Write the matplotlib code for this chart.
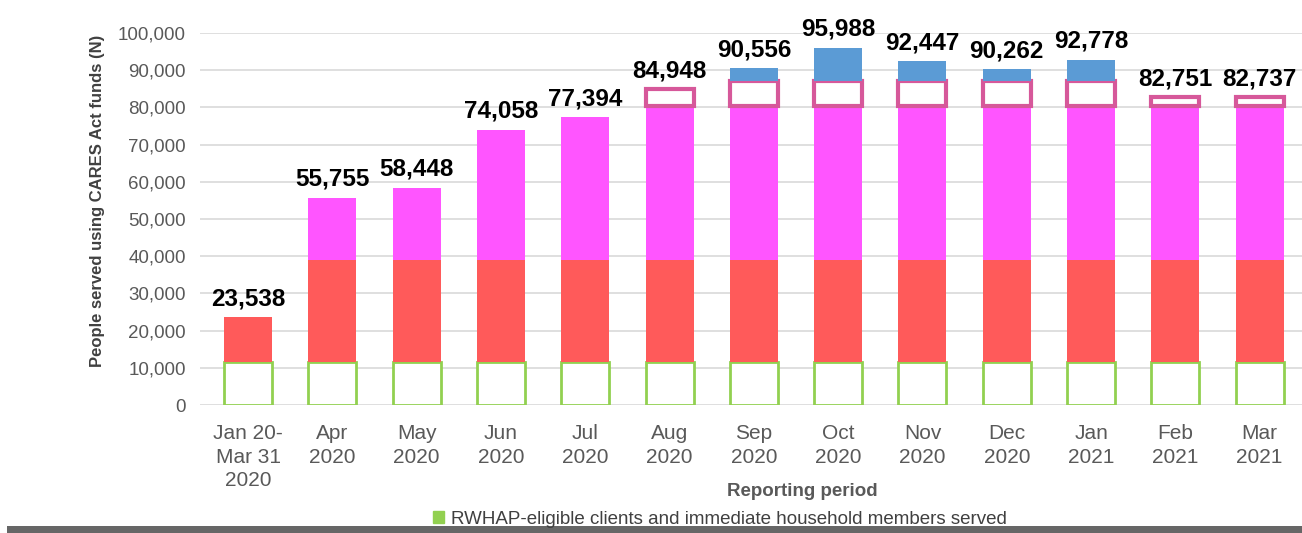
import numpy as np
import matplotlib
matplotlib.use("Agg")
import matplotlib.pyplot as plt
from matplotlib.patches import Patch, Rectangle

plt.rcParams['font.family'] = ['Liberation Sans', 'DejaVu Sans']

# reporting periods and people served (totals shown above bars)
periods = ['Jan 20-\nMar 31\n2020', 'Apr\n2020', 'May\n2020', 'Jun\n2020', 'Jul\n2020',
           'Aug\n2020', 'Sep\n2020', 'Oct\n2020', 'Nov\n2020', 'Dec\n2020',
           'Jan\n2021', 'Feb\n2021', 'Mar\n2021']
served = [23538, 55755, 58448, 74058, 77394, 84948, 90556, 95988,
          92447, 90262, 92778, 82751, 82737]
legendLabel = 'RWHAP-eligible clients and immediate household members served'

# colour bands as they appear in the picture (lower edge of each band)
bandEdges = [0, 11500, 39000, 80500, 87000, 1e9]
bandFace = ['white', '#ff5a5a', '#ff55ff', 'white', '#5b9bd5']
bandEdge = ['#92d050', '#ff5a5a', '#ff55ff', '#d6589a', '#5b9bd5']
bandLw = [2.0, 0, 0, 3.0, 0]

step = 84.3  # pixels per category
fig = plt.figure(figsize=(13.02, 5.33), dpi=100)
ax = fig.add_axes([200 / 1302, 128 / 533, 1102 / 1302, 372 / 533])

x = np.arange(len(periods))
served = np.array(served)
for b in range(len(bandFace)):
  lo = bandEdges[b]
  hi = bandEdges[b + 1]
  seg = np.clip(served, lo, hi) - lo
  keep = seg > 0
  ax.bar(x[keep], seg[keep], bottom=lo, width=0.57, color=bandFace[b], edgecolor=bandEdge[b],
         linewidth=bandLw[b], zorder=3)

for i, v in enumerate(served):
  ax.annotate(f'{v:,}', (i, v), xytext=(0, 5), textcoords='offset points',
              ha='center', va='bottom', fontsize=17.5, fontweight='bold', color='black')

ax.set_xlim(-0.57, -0.57 + 1102 / step)
ax.set_ylim(0, 100000)
ax.set_yticks(np.arange(0, 100001, 10000))
ax.yaxis.set_major_formatter(matplotlib.ticker.FuncFormatter(lambda v, p: f'{int(v):,}'))
ax.set_xticks(x)
ax.set_xticklabels(periods, linespacing=1.3)
ax.tick_params(axis='y', labelsize=13.5, labelcolor='#595959', length=0, pad=10)
ax.tick_params(axis='x', labelsize=15, labelcolor='#595959', length=0, pad=14)
ax.grid(axis='y', color='#d9d9d9', linewidth=1.2, zorder=0)
for s in ax.spines.values():
  s.set_visible(False)

ax.set_ylabel('People served using CARES Act funds (N)', fontsize=12, fontweight='bold',
              color='#404040')
ax.yaxis.set_label_coords(-95 / 1102, 0.55)
fig.text(802 / 1302, 1 - 492 / 533, 'Reporting period', ha='center', va='center',
         fontsize=13.5, fontweight='bold', color='#595959')

fig.legend(handles=[Patch(facecolor='#92d050', edgecolor='#92d050', label=legendLabel)],
           loc='center left', bbox_to_anchor=(425 / 1302, 1 - 519 / 533), frameon=False,
           fontsize=13.5, handlelength=0.6, handleheight=0.6, handletextpad=0.4,
           labelcolor='#404040', borderaxespad=0)

fig.patches.append(Rectangle((0.005, 0), 0.995, 7 / 533, transform=fig.transFigure,
                             facecolor='#666666', edgecolor='none'))

fig.savefig('out.png', dpi=100)
